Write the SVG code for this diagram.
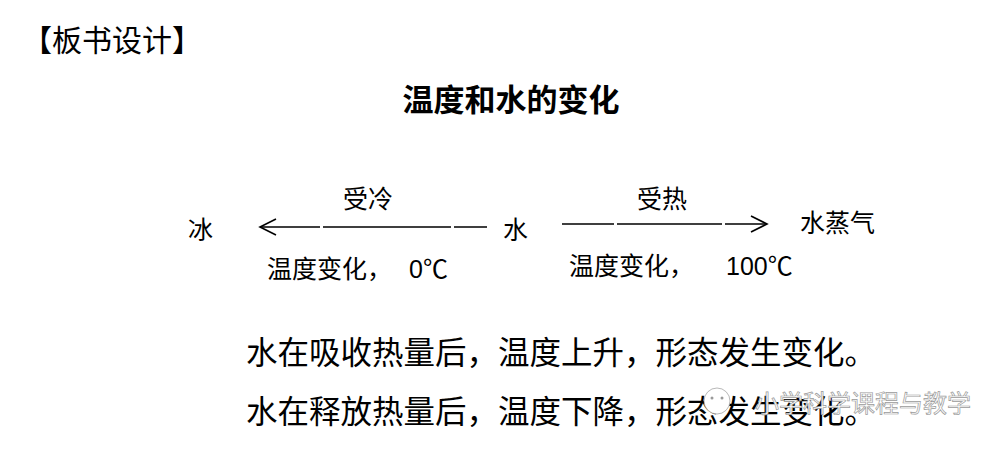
<svg xmlns="http://www.w3.org/2000/svg" width="1004" height="449" viewBox="0 0 1004 449">
<style>
text{font-family:"Noto Sans CJK SC","Liberation Sans",sans-serif;fill:#000}
.s{font-size:25px}
.b{font-size:31.5px}
.line{stroke:#000;stroke-width:1.6;fill:none}
.num{font-family:"Liberation Sans","Noto Sans CJK SC",sans-serif}
.wm{fill:#fff;stroke:#9a9a9a;stroke-width:0.7}
</style>
<rect width="1004" height="449" fill="#fff"/>
<g id="header"><text x="22" y="51" style="font-size:30px">【板书设计】</text></g>
<g id="title"><text x="511" y="111" text-anchor="middle" style="font-size:31px;font-weight:bold">温度和水的变化</text></g>
<g id="ice"><text class="s" x="188" y="239">冰</text></g>
<g id="water"><text class="s" x="503" y="239">水</text></g>
<g id="steam"><text class="s" x="800" y="232">水蒸气</text></g>
<g id="connectors">
<path class="line" d="M260 227H320M323 227H451M454 227H487"/>
<path class="line" d="M276 219L260 227L276 235"/>
<path class="line" d="M562 224H614M617 224H722M725 224H767"/>
<path class="line" d="M751 216L767 224L751 232"/>
</g>
<g id="label-cold"><text class="s" x="343" y="208">受冷</text></g>
<g id="label-cold-sub"><text class="s" x="267" y="278">温度变化，<tspan class="num" x="409">0</tspan>℃</text></g>
<g id="label-heat"><text class="s" x="637" y="208">受热</text></g>
<g id="label-heat-sub"><text class="s" x="569" y="275">温度变化，<tspan class="num" x="726">100</tspan>℃</text></g>
<g id="body">
<text class="b" x="246" y="364">水在吸收热量后，温度上升，形态发生变化。</text>
<text class="b" x="246" y="423">水在释放热量后，温度下降，形态发生变化。</text>
</g>
<g id="watermark">
<circle cx="717" cy="401" r="13" class="wm"/>
<circle cx="712" cy="398" r="1.5" fill="#9a9a9a"/>
<circle cx="722" cy="398" r="1.5" fill="#9a9a9a"/>
<text x="755" y="412" class="wm" style="font-size:24px">小学科学课程与教学</text>
</g>
</svg>
